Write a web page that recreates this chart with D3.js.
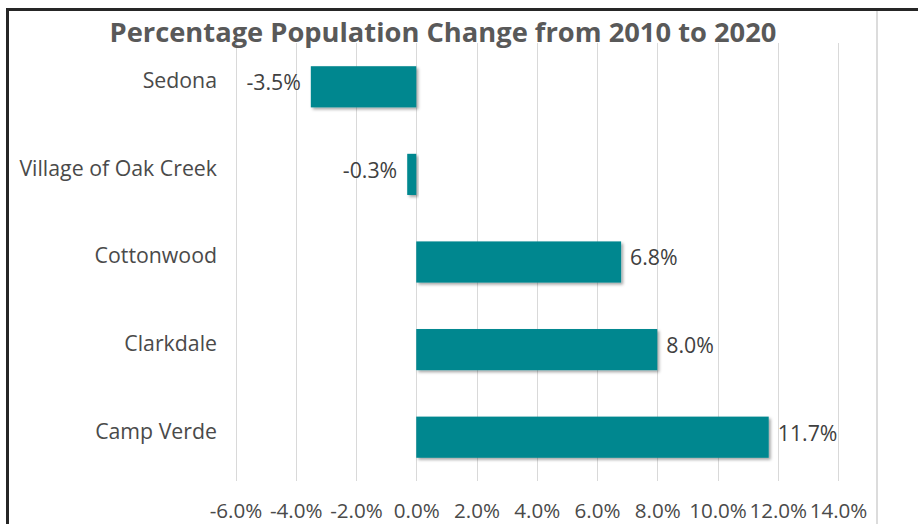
<!DOCTYPE html>
<html>
<head>
<meta charset="utf-8">
<script src="https://cdn.jsdelivr.net/npm/d3@7"></script>
<style>
  html, body { margin: 0; padding: 0; background: #fff; }
  svg { display: block; }
  text { font-family: "Open Sans", "Noto Sans", sans-serif; }
</style>
</head>
<body>
<svg id="chart" width="918" height="524"></svg>
<script>
const title = "Percentage Population Change from 2010 to 2020";
const categories = ["Sedona", "Village of Oak Creek", "Cottonwood", "Clarkdale", "Camp Verde"];
const values = [-3.5, -0.3, 6.8, 8.0, 11.7];
const tickValues = [-6, -4, -2, 0, 2, 4, 6, 8, 10, 12, 14];

const svg = d3.select("#chart");
const W = 918, H = 524;

const defs = svg.append("defs");
const f = defs.append("filter").attr("id", "shadow").attr("x", "-10%").attr("y", "-20%").attr("width", "130%").attr("height", "160%");
f.append("feDropShadow").attr("dx", 2).attr("dy", 2).attr("stdDeviation", 1.6).attr("flood-color", "#000").attr("flood-opacity", 0.35);

svg.append("rect").attr("width", W).attr("height", H).attr("fill", "#fff");

const x = d3.scaleLinear().domain([-6, 14]).range([235.5, 838]);
const y = d3.scaleBand().domain(categories).range([43, 481]).paddingInner(0.53).paddingOuter(0.265);

// gridlines
svg.append("g").selectAll("line").data(tickValues).join("line")
  .attr("x1", d => Math.round(x(d)) + 0.5).attr("x2", d => Math.round(x(d)) + 0.5)
  .attr("y1", 43).attr("y2", 481)
  .attr("stroke", "#d9d9d9").attr("stroke-width", 1);

// right plot border line
svg.append("line").attr("x1", 877).attr("x2", 877).attr("y1", 10).attr("y2", H)
  .attr("stroke", "#dcdcdc").attr("stroke-width", 2);

// axis tick labels
const xAxis = d3.axisBottom(x).tickValues(tickValues).tickSize(0).tickPadding(0)
  .tickFormat(d => d.toFixed(1) + "%");
const ax = svg.append("g").attr("transform", "translate(0,503)").call(xAxis);
ax.select(".domain").remove();
ax.selectAll("text").attr("font-size", 20.6).attr("fill", "#4a4a4a")
  .attr("font-family", "'Open Sans', 'Noto Sans', sans-serif").attr("dy", "0.71em");

// bars
const data = categories.map((c, i) => ({ c, v: values[i] }));
svg.append("g").selectAll("rect").data(data).join("rect")
  .attr("x", d => x(Math.min(0, d.v)))
  .attr("width", d => Math.abs(x(d.v) - x(0)))
  .attr("y", d => y(d.c))
  .attr("height", y.bandwidth())
  .attr("fill", "#00878f")
  .attr("filter", "url(#shadow)");

// value labels
svg.append("g").selectAll("text").data(data).join("text")
  .attr("x", d => d.v < 0 ? x(d.v) - 10 : x(d.v) + 9)
  .attr("y", d => y(d.c) + y.bandwidth() / 2 - 4)
  .attr("dy", "0.35em")
  .attr("text-anchor", d => d.v < 0 ? "end" : "start")
  .attr("font-size", 21.3).attr("fill", "#404040")
  .text(d => d.v.toFixed(1) + "%");

// category labels
svg.append("g").selectAll("text").data(categories).join("text")
  .attr("x", 217)
  .attr("y", d => y(d) + y.bandwidth() / 2 - 6)
  .attr("dy", "0.35em")
  .attr("text-anchor", "end")
  .attr("font-size", 21.3).attr("fill", "#4a4a4a")
  .text(d => d);

// title
svg.append("text").attr("x", 443).attr("y", 42).attr("text-anchor", "middle")
  .attr("font-size", 27.3).attr("font-weight", "bold").attr("fill", "#595959")
  .text(title);

// outer frame
svg.append("path").attr("d", `M7.5,${H} V9.5 H${W}`)
  .attr("fill", "none").attr("stroke", "#262626").attr("stroke-width", 3);
</script>
</body>
</html>
